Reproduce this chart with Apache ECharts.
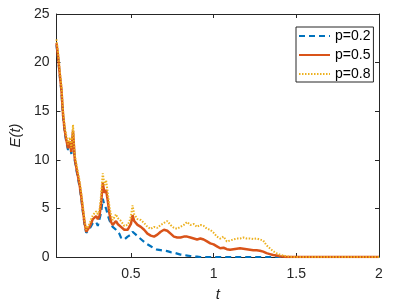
<!DOCTYPE html>
<html>
<head>
<meta charset="utf-8">
<script src="https://cdn.jsdelivr.net/npm/echarts@6/dist/echarts.min.js"></script>
<style>html,body{margin:0;padding:0;background:#fff;}#c{width:403px;height:308px;}</style>
</head>
<body>
<div id="c"></div>
<script>
const seriesNames = ['p=0.2', 'p=0.5', 'p=0.8'];
const xTicks = [0.5, 1, 1.5, 2];
const yTicks = [0, 5, 10, 15, 20, 25];
const tVals = [
  0.05,0.06,0.07,0.08,0.09,0.10,0.11,0.12,0.13,0.14,0.15,0.16,0.17,0.18,0.19,0.20,
  0.21,0.22,0.23,0.24,0.25,0.26,0.27,0.28,0.29,0.30,0.31,0.32,0.33,0.34,0.35,0.36,
  0.37,0.38,0.39,0.40,0.41,0.42,0.43,0.44,0.45,0.46,0.47,0.48,0.49,0.50,0.51,0.52,
  0.53,0.54,0.55,0.56,0.57,0.58,0.59,0.60,
  0.62,0.64,0.66,0.68,0.70,0.72,0.74,0.76,0.78,0.80,0.82,0.84,0.86,0.88,0.90,0.92,
  0.94,0.96,0.98,1.00,1.02,1.04,1.06,1.08,1.10,1.12,1.14,1.16,1.18,1.20,1.22,1.24,
  1.26,1.28,1.30,1.32,1.34,1.36,1.38,1.40,1.42,1.44,1.46,1.48,1.50,1.52,1.54,1.56,
  1.58,1.60,2.0
];
const eP02 = [
  21.8,20.4,18.6,17.0,14.4,12.8,11.8,11.0,11.7,10.6,12.7,10.0,9.0,8.1,7.2,6.0,
  4.6,3.3,2.5,2.4,2.9,3.2,3.5,3.3,3.6,3.2,3.4,4.6,6.0,5.3,5.0,4.3,
  3.8,3.4,3.1,3.0,2.8,2.6,2.4,2.0,1.8,1.8,2.0,2.1,2.2,2.3,2.6,2.4,
  2.3,2.1,2.0,1.9,1.7,1.6,1.4,1.3,
  1.1,0.9,0.75,0.7,0.65,0.6,0.5,0.45,0.35,0.25,0.2,0.15,0.1,0.06,0.03,0,
  0,0,0,0,0,0,0,0,0,0,0,0,0,0,0,0,
  0,0,0,0,0,0,0,0,0,0,0,0,0,0,0,0,
  0,0,0
];
const eP05 = [
  22.0,20.6,18.8,17.2,14.6,13.0,12.0,11.2,11.9,10.8,13.0,10.2,9.2,8.3,7.4,6.2,
  4.8,3.5,2.6,2.5,3.1,3.5,3.9,3.7,4.2,3.9,4.2,5.6,7.6,6.6,6.9,5.8,
  4.5,3.6,3.3,3.5,3.7,3.4,3.3,3.1,3.0,2.8,2.6,2.8,3.0,3.4,4.3,3.7,
  3.8,3.3,3.4,3.1,3.0,2.8,2.6,2.4,
  2.2,2.1,2.3,2.6,2.8,2.7,2.4,2.1,2.0,2.0,2.1,2.1,2.0,1.9,1.8,1.9,
  1.8,1.6,1.4,1.3,1.1,0.9,0.95,0.8,0.75,0.8,0.85,0.9,0.85,0.8,0.75,0.7,
  0.7,0.65,0.55,0.4,0.3,0.2,0.15,0.08,0.04,0,0,0,0,0,0,0,
  0,0,0
];
const eP08 = [
  22.4,21.0,19.2,17.6,15.0,13.4,12.4,11.6,12.3,11.2,13.6,10.6,9.6,8.7,7.8,6.6,
  5.2,3.8,2.8,2.7,3.4,3.9,4.3,4.1,4.7,4.4,4.8,6.4,8.6,7.4,7.9,6.6,
  5.2,4.3,3.8,4.1,4.4,4.0,3.9,3.7,3.5,3.2,3.0,3.3,3.6,4.2,5.3,4.4,
  4.6,3.9,4.1,3.8,3.7,3.5,3.3,3.1,
  2.9,3.1,3.0,3.3,3.5,3.7,3.3,3.0,2.9,3.1,3.3,3.6,3.3,3.4,3.1,3.3,
  3.2,2.9,2.8,2.5,2.1,1.9,2.1,1.6,1.7,1.8,1.9,1.9,2.0,1.9,1.9,1.85,
  1.9,1.8,1.7,1.2,0.9,0.6,0.4,0.25,0.15,0.08,0.03,0,0,0,0,0,
  0,0,0
];

const axisColor = '#262626';
const font = 'Liberation Sans, Arial, Helvetica, sans-serif';
function pairs(vals) { return tVals.map((t, i) => [t, vals[i]]); }

const chart = echarts.init(document.getElementById('c'), null, {renderer: 'canvas'});
chart.setOption({
  animation: false,
  backgroundColor: '#fff',
  grid: {left: 54, right: 24, top: 14, bottom: 51, containLabel: false},
  legend: {
    orient: 'vertical',
    left: 296, top: 27,
    padding: [2, 3, 1, 2],
    itemGap: 5,
    itemWidth: 31,
    itemHeight: 14,
    itemTextGap: 2,
    borderColor: axisColor,
    borderWidth: 1,
    backgroundColor: '#fff',
    itemStyle: {opacity: 0},
    textStyle: {fontFamily: font, fontSize: 14, color: '#000'},
    data: seriesNames
  },
  xAxis: [{
    type: 'value', min: 0.05, max: 2, position: 'bottom',
    name: 't', nameLocation: 'middle', nameGap: 30,
    nameTextStyle: {fontFamily: font, fontSize: 15, fontStyle: 'italic', color: axisColor},
    axisLine: {show: true, onZero: false, lineStyle: {color: axisColor, width: 1}},
    axisTick: {show: true, inside: true, length: 4, customValues: xTicks, lineStyle: {color: axisColor}},
    axisLabel: {show: true, customValues: xTicks, margin: 10, fontFamily: font, fontSize: 14, color: axisColor,
      formatter: v => String(v)},
    splitLine: {show: false}
  }, {
    type: 'value', min: 0.05, max: 2, position: 'top',
    axisLine: {show: true, onZero: false, lineStyle: {color: axisColor, width: 1}},
    axisTick: {show: true, inside: true, length: 4, customValues: xTicks, lineStyle: {color: axisColor}},
    axisLabel: {show: false},
    splitLine: {show: false}
  }],
  yAxis: [{
    type: 'value', min: 0, max: 25, interval: 5, position: 'left',
    name: 'E(t)', nameLocation: 'middle', nameGap: 30, nameRotate: 90,
    nameTextStyle: {fontFamily: font, fontSize: 15, fontStyle: 'italic', color: axisColor},
    axisLine: {show: true, onZero: false, lineStyle: {color: axisColor, width: 1}},
    axisTick: {show: true, inside: true, length: 4, lineStyle: {color: axisColor}},
    axisLabel: {show: true, margin: 7, fontFamily: font, fontSize: 14, color: axisColor,
      customValues: yTicks},
    splitLine: {show: false}
  }, {
    type: 'value', min: 0, max: 25, interval: 5, position: 'right',
    axisLine: {show: true, onZero: false, lineStyle: {color: axisColor, width: 1}},
    axisTick: {show: true, inside: true, length: 4, lineStyle: {color: axisColor}},
    axisLabel: {show: false},
    splitLine: {show: false}
  }],
  series: [{
    name: seriesNames[0], type: 'line', xAxisIndex: 0, yAxisIndex: 0,
    data: pairs(eP02), symbol: 'none', smooth: false,
    lineStyle: {color: '#0072BD', width: 2.2, type: [6, 4]},
    itemStyle: {color: '#0072BD'}, z: 2
  }, {
    name: seriesNames[1], type: 'line', xAxisIndex: 0, yAxisIndex: 0,
    data: pairs(eP05), symbol: 'none', smooth: false,
    lineStyle: {color: '#D95319', width: 2.5, type: 'solid'},
    itemStyle: {color: '#D95319'}, z: 3
  }, {
    name: seriesNames[2], type: 'line', xAxisIndex: 0, yAxisIndex: 0,
    data: pairs(eP08), symbol: 'none', smooth: false,
    lineStyle: {color: '#EDB120', width: 2, type: [1.5, 1.5]},
    itemStyle: {color: '#EDB120'}, z: 4
  }]
});
</script>
</body>
</html>
